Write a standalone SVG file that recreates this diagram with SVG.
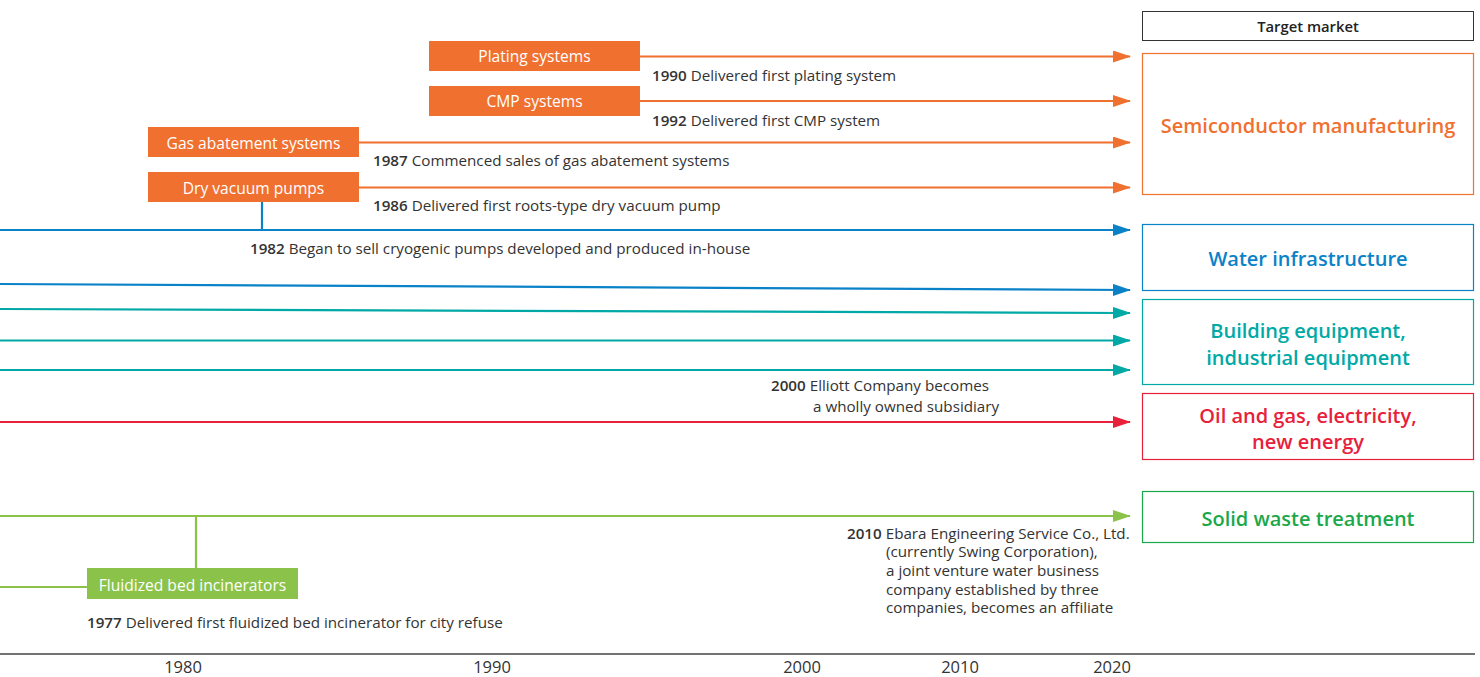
<svg xmlns="http://www.w3.org/2000/svg" width="1480" height="677" viewBox="0 0 1480 677">
<style>
text{font-family:"Open Sans","Noto Sans","DejaVu Sans",sans-serif}
.tl{font-size:15.6px;fill:#fff}
.ev{font-size:15.2px;fill:#333}
.ev tspan.b{font-weight:600}
.mk{font-size:20px;font-weight:600;text-anchor:middle}
.yr{font-size:16.5px;fill:#333;text-anchor:middle}
.ln{fill:none;stroke-width:2.2}
</style>
<defs>
<marker id="ao" markerWidth="18" markerHeight="12" refX="17" refY="6" orient="auto" markerUnits="userSpaceOnUse"><path d="M0,0 L18,6 L0,12 z" fill="#F07030"/></marker>
<marker id="ab" markerWidth="18" markerHeight="12" refX="17" refY="6" orient="auto" markerUnits="userSpaceOnUse"><path d="M0,0 L18,6 L0,12 z" fill="#0A82C8"/></marker>
<marker id="at" markerWidth="18" markerHeight="12" refX="17" refY="6" orient="auto" markerUnits="userSpaceOnUse"><path d="M0,0 L18,6 L0,12 z" fill="#00A9A6"/></marker>
<marker id="ar" markerWidth="18" markerHeight="12" refX="17" refY="6" orient="auto" markerUnits="userSpaceOnUse"><path d="M0,0 L18,6 L0,12 z" fill="#E8203A"/></marker>
<marker id="ag" markerWidth="18" markerHeight="12" refX="17" refY="6" orient="auto" markerUnits="userSpaceOnUse"><path d="M0,0 L18,6 L0,12 z" fill="#8BC34A"/></marker>
</defs>
<g id="connectors">
<line class="ln" x1="640" y1="56.5" x2="1130" y2="56.5" stroke="#F07030" marker-end="url(#ao)"/>
<line class="ln" x1="640" y1="101" x2="1130" y2="101" stroke="#F07030" marker-end="url(#ao)"/>
<line class="ln" x1="359" y1="142.5" x2="1130" y2="142.5" stroke="#F07030" marker-end="url(#ao)"/>
<line class="ln" x1="359" y1="187.5" x2="1130" y2="187.5" stroke="#F07030" marker-end="url(#ao)"/>
<line class="ln" x1="0" y1="230" x2="1130" y2="230" stroke="#0A82C8" marker-end="url(#ab)"/>
<line class="ln" x1="262" y1="202" x2="262" y2="230" stroke="#0A82C8"/>
<line class="ln" x1="0" y1="284" x2="1130" y2="290" stroke="#0A82C8" marker-end="url(#ab)"/>
<line class="ln" x1="0" y1="309" x2="1130" y2="313" stroke="#00A9A6" marker-end="url(#at)"/>
<line class="ln" x1="0" y1="340.5" x2="1130" y2="340.5" stroke="#00A9A6" marker-end="url(#at)"/>
<line class="ln" x1="0" y1="370" x2="1130" y2="370" stroke="#00A9A6" marker-end="url(#at)"/>
<line class="ln" x1="0" y1="422" x2="1130" y2="422" stroke="#E8203A" marker-end="url(#ar)"/>
<line class="ln" x1="0" y1="516" x2="1130" y2="516" stroke="#8BC34A" marker-end="url(#ag)"/>
<line class="ln" x1="196" y1="516" x2="196" y2="569" stroke="#8BC34A"/>
<line class="ln" x1="0" y1="587" x2="88" y2="587" stroke="#8BC34A"/>
</g>
<g id="plating"><rect x="429" y="41" width="211" height="30" fill="#F07030"/><text class="tl" x="534.5" y="61.5" text-anchor="middle">Plating systems</text></g>
<g id="cmp"><rect x="429" y="86" width="211" height="30" fill="#F07030"/><text class="tl" x="534.5" y="106.5" text-anchor="middle">CMP systems</text></g>
<g id="gas"><rect x="148" y="127" width="211" height="30" fill="#F07030"/><text class="tl" x="253.5" y="148.5" text-anchor="middle">Gas abatement systems</text></g>
<g id="dry"><rect x="148" y="172" width="211" height="30" fill="#F07030"/><text class="tl" x="253.5" y="193.5" text-anchor="middle">Dry vacuum pumps</text></g>
<g id="fluid"><rect x="87" y="568" width="211" height="31" fill="#8BC34A"/><text class="tl" x="192.5" y="590.5" text-anchor="middle">Fluidized bed incinerators</text></g>
<g id="events">
<text class="ev" x="652" y="80.5"><tspan class="b">1990</tspan> Delivered first plating system</text>
<text class="ev" x="652" y="125.5"><tspan class="b">1992</tspan> Delivered first CMP system</text>
<text class="ev" x="373" y="165.5"><tspan class="b">1987</tspan> Commenced sales of gas abatement systems</text>
<text class="ev" x="373" y="210.5"><tspan class="b">1986</tspan> Delivered first roots-type dry vacuum pump</text>
<text class="ev" x="250" y="253.5"><tspan class="b">1982</tspan> Began to sell cryogenic pumps developed and produced in-house</text>
<text class="ev" x="771" y="390.5"><tspan class="b">2000</tspan> Elliott Company becomes</text>
<text class="ev" x="813" y="411.5">a wholly owned subsidiary</text>
<text class="ev" x="847" y="538.5"><tspan class="b">2010</tspan> Ebara Engineering Service Co., Ltd.</text>
<text class="ev" x="886" y="557">(currently Swing Corporation),</text>
<text class="ev" x="886" y="576">a joint venture water business</text>
<text class="ev" x="886" y="594.5">company established by three</text>
<text class="ev" x="886" y="613">companies, becomes an affiliate</text>
<text class="ev" x="87" y="627.5"><tspan class="b">1977</tspan> Delivered first fluidized bed incinerator for city refuse</text>
</g>
<g id="target"><rect x="1142.5" y="11.5" width="331" height="29" fill="#fff" stroke="#333" stroke-width="1"/><text x="1308" y="32" font-size="14.8" font-weight="600" fill="#222" text-anchor="middle">Target market</text></g>
<g id="semi"><rect x="1142.5" y="53.5" width="331" height="141" fill="#fff" stroke="#F07030" stroke-width="1.2"/><text class="mk" x="1308" y="133" fill="#F07030">Semiconductor manufacturing</text></g>
<g id="water"><rect x="1142.5" y="224.5" width="331" height="66" fill="#fff" stroke="#0A82C8" stroke-width="1.2"/><text class="mk" x="1308" y="266" fill="#0A82C8">Water infrastructure</text></g>
<g id="building"><rect x="1142.5" y="299.5" width="331" height="85" fill="#fff" stroke="#00A9A6" stroke-width="1.2"/><text class="mk" x="1308" y="338" fill="#00A9A6">Building equipment,</text><text class="mk" x="1308" y="365" fill="#00A9A6">industrial equipment</text></g>
<g id="oil"><rect x="1142.5" y="393.5" width="331" height="66" fill="#fff" stroke="#E8203A" stroke-width="1.2"/><text class="mk" x="1308" y="423" fill="#E8203A">Oil and gas, electricity,</text><text class="mk" x="1308" y="449" fill="#E8203A">new energy</text></g>
<g id="waste"><rect x="1142.5" y="491.5" width="331" height="51" fill="#fff" stroke="#1BA84A" stroke-width="1.2"/><text class="mk" x="1308" y="526" fill="#1BA84A">Solid waste treatment</text></g>
<g id="axis">
<line x1="0" y1="654" x2="1475" y2="654" stroke="#444" stroke-width="1.5"/>
<text class="yr" x="183" y="672.5">1980</text>
<text class="yr" x="492" y="672.5">1990</text>
<text class="yr" x="802" y="672.5">2000</text>
<text class="yr" x="960" y="672.5">2010</text>
<text class="yr" x="1112" y="672.5">2020</text>
</g>
</svg>
